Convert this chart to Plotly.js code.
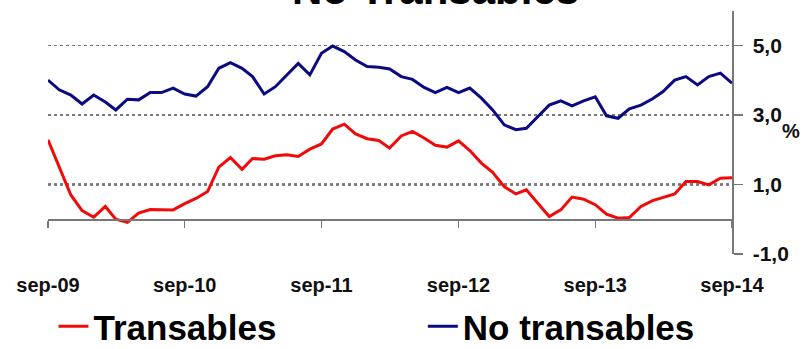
<!DOCTYPE html>
<html>
<head>
<meta charset="utf-8">
<script src="https://cdn.plot.ly/plotly-3.0.1.min.js"></script>
<style>html,body{margin:0;padding:0;background:#fff;}#chart{width:803px;height:349px;}</style>
</head>
<body>
<div id="chart"></div>
<script>
const months = [
 "2009-09","2009-10","2009-11","2009-12","2010-01","2010-02","2010-03","2010-04","2010-05","2010-06","2010-07","2010-08",
 "2010-09","2010-10","2010-11","2010-12","2011-01","2011-02","2011-03","2011-04","2011-05","2011-06","2011-07","2011-08",
 "2011-09","2011-10","2011-11","2011-12","2012-01","2012-02","2012-03","2012-04","2012-05","2012-06","2012-07","2012-08",
 "2012-09","2012-10","2012-11","2012-12","2013-01","2013-02","2013-03","2013-04","2013-05","2013-06","2013-07","2013-08",
 "2013-09","2013-10","2013-11","2013-12","2014-01","2014-02","2014-03","2014-04","2014-05","2014-06","2014-07","2014-08",
 "2014-09"
];
const transables = [
 2.29,1.50,0.70,0.25,0.06,0.37,0.00,-0.09,0.18,0.28,0.28,0.27,
 0.45,0.60,0.80,1.50,1.78,1.44,1.75,1.73,1.83,1.86,1.81,2.02,
 2.17,2.60,2.74,2.46,2.32,2.27,2.05,2.40,2.53,2.34,2.13,2.08,
 2.26,1.98,1.62,1.35,0.94,0.73,0.85,0.47,0.08,0.27,0.64,0.58,
 0.42,0.15,0.03,0.05,0.37,0.54,0.63,0.73,1.09,1.09,0.99,1.18,
 1.20
];
const noTransables = [
 4.01,3.73,3.58,3.32,3.58,3.38,3.15,3.46,3.44,3.65,3.65,3.78,
 3.61,3.55,3.82,4.35,4.51,4.35,4.11,3.61,3.82,4.16,4.49,4.16,
 4.78,4.99,4.83,4.59,4.40,4.38,4.33,4.11,4.03,3.80,3.65,3.80,
 3.65,3.78,3.49,3.15,2.72,2.58,2.62,2.96,3.29,3.41,3.27,3.41,
 3.53,2.98,2.91,3.18,3.29,3.47,3.68,4.01,4.11,3.87,4.11,4.21,
 3.92
];
const xTickVals = ["2009-09-01","2010-09-01","2011-09-01","2012-09-01","2013-09-01","2014-09-01"];
const xTickText = ["sep-09","sep-10","sep-11","sep-12","sep-13","sep-14"];
const yTickVals = [-1, 1, 3, 5];
const yTickText = ["-1,0", "1,0", "3,0", "5,0"];
const seriesNames = ["Transables", "No transables"];
const titleText = "No Transables";

const FONT = '"Liberation Sans", Arial, sans-serif';
const yMin = -1, yMax = 6;

const traces = [
  {x: months, y: transables, name: seriesNames[0], type: 'scatter', mode: 'lines',
   line: {color: '#f00a0a', width: 3}, legend: 'legend'},
  {x: months, y: noTransables, name: seriesNames[1], type: 'scatter', mode: 'lines',
   line: {color: '#0a0a82', width: 3}, legend: 'legend2'},
  {x: [], y: [], xaxis: 'x2', showlegend: false, hoverinfo: 'skip'}
];

const legendFont = {family: FONT, size: 35, color: '#000', weight: 'bold'};

const layout = {
  width: 803, height: 349,
  margin: {l: 48, r: 71, t: 11, b: 95, autoexpand: false},
  paper_bgcolor: '#ffffff', plot_bgcolor: '#ffffff',
  showlegend: true,
  legend: {orientation: 'h', x: 0.008, xanchor: 'left', y: -0.298, yanchor: 'middle',
           font: legendFont, bgcolor: 'rgba(0,0,0,0)', borderwidth: 0},
  legend2: {orientation: 'h', x: 0.548, xanchor: 'left', y: -0.298, yanchor: 'middle',
           font: legendFont, bgcolor: 'rgba(0,0,0,0)', borderwidth: 0},
  xaxis: {type: 'date', range: [xTickVals[0], xTickVals[xTickVals.length-1]],
          tickmode: 'array', tickvals: xTickVals, ticktext: xTickText,
          showgrid: false, zeroline: false, showline: false,
          ticks: 'outside', ticklen: 13, tickcolor: 'rgba(0,0,0,0)',
          tickfont: {family: FONT, size: 20, color: '#111', weight: 'bold'}},
  xaxis2: {type: 'date', matches: 'x', overlaying: 'x', anchor: 'free', position: (0 - yMin) / (yMax - yMin),
           tickmode: 'array', tickvals: xTickVals, showticklabels: false,
           showgrid: false, zeroline: false, showline: true, linecolor: '#777', linewidth: 1.5,
           ticks: 'outside', ticklen: 7, tickcolor: '#777', tickwidth: 1.5},
  yaxis: {side: 'right', range: [yMin, yMax], tickmode: 'array', tickvals: yTickVals, ticktext: yTickText,
          showgrid: true, gridcolor: '#777', griddash: 'dot', gridwidth: 1.5,
          zeroline: false, showline: true, linecolor: '#777', linewidth: 1.5,
          ticks: 'outside', ticklen: 9, tickcolor: '#777', tickwidth: 1.5,
          ticklabelstandoff: 6,
          tickfont: {family: FONT, size: 21, color: '#111', weight: 'bold'}},
  shapes: [
    {type: 'line', xref: 'paper', x0: 0, x1: 1, yref: 'y', y0: 1, y1: 1,
     line: {color: '#111', width: 2, dash: 'dot'}, layer: 'below'}
  ],
  annotations: [
    {text: '%', xref: 'paper', x: 1.103, yref: 'y', y: 2.55, showarrow: false,
     font: {family: FONT, size: 20, color: '#111', weight: 'bold'}},
    {text: titleText, xref: 'paper', x: 0.566, yref: 'paper', y: 1, yanchor: 'bottom', yshift: -4,
     showarrow: false, font: {family: FONT, size: 42, color: '#000', weight: 'bold'}}
  ]
};

Plotly.newPlot('chart', traces, layout, {displayModeBar: false, staticPlot: true});
</script>
</body>
</html>
